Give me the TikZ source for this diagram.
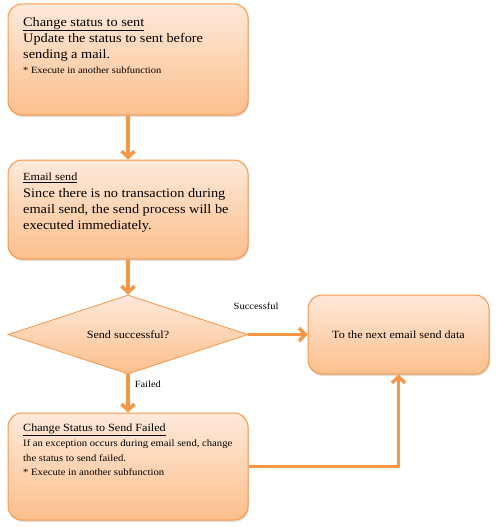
\documentclass[tikz,border=0pt]{standalone}
\usepackage{fontspec}
\setmainfont{Liberation Serif}[FakeStretch=1.1]
\usetikzlibrary{shapes.geometric,arrows.meta,shadows,positioning}

\definecolor{boxline}{HTML}{F79646}
\definecolor{boxtop}{HTML}{FEE9DA}
\definecolor{boxbottom}{HTML}{FCBF8C}

\begin{document}
\begin{tikzpicture}
  [x=1pt, y=-1pt,
    every node/.style={font=\fontsize{10}{12}\selectfont},
    stepbox/.style={draw=boxline, line width=1pt, rounded corners=14pt,
      top color=boxtop, bottom color=boxbottom,
      drop shadow={opacity=0.25, shadow xshift=1pt, shadow yshift=-2pt},
      minimum width=240pt},
    decision/.style={diamond, aspect=3, draw=boxline, line width=0.8pt, inner sep=0pt,
      top color=boxtop, bottom color=boxbottom,
      minimum width=240pt, minimum height=79pt},
    boxtext/.style={anchor=north west, inner sep=0pt, align=left},
    flow/.style={draw=boxline, line width=3.5pt,
      -{Straight Barb[length=6pt, width=13pt]}},
    flowlabel/.style={font=\fontsize{9.5}{11}\selectfont, inner sep=0pt},
  ]
  \useasboundingbox (0,0) rectangle (496,527);

  % boxes
  \node[stepbox, minimum height=111pt] (sent) at (128,59.5) {};
  \node[stepbox, minimum height=99pt] (mailsend) at (128,209.5) {};
  \node[decision] (success) at (128,334.5) {\fontsize{11}{13}\selectfont Send successful?};
  \node[stepbox, minimum width=181pt, minimum height=79pt] (nextdata) at (398.5,334.5)
    {\fontsize{11}{13}\selectfont To the next email send data};
  \node[stepbox, minimum height=107pt] (failed) at (128,466.5) {};

  % texts
  \node[boxtext, font=\fontsize{13}{16}\selectfont] (senttext) at (23,17)
    {\underline{Change status to sent}\\
     Update the status to sent before\\
     sending a mail.\\[-1pt]
     {\fontsize{9.5}{11}\selectfont * Execute in another subfunction}};
  \node[boxtext, font=\fontsize{13}{16.3}\selectfont] (mailsendtext) at (23,173)
    {{\fontsize{11}{13}\selectfont\underline{Email send}}\\
     Since there is no transaction during\\
     email send, the send process will be\\
     executed immediately.};
  \node[boxtext, font=\fontsize{9.7}{15}\selectfont] (failedtext) at (23,424)
    {{\fontsize{11}{13}\selectfont\underline{Change Status to Send Failed}}\\
     If an exception occurs during email send, change\\
     the status to send failed.\\[-1.5pt]
     * Execute in another subfunction};

  % connectors
  \draw[flow] (sent) -- (mailsend);
  \draw[flow] (mailsend) -- (success);
  \draw[flow] (success) -- node[flowlabel, pos=0.25, anchor=west, xshift=5pt] {Failed} (failed);
  \draw[flow] (success) -- node[flowlabel, pos=0.13, yshift=28pt] {Successful} (nextdata);
  \draw[flow] (failed.east) -| (nextdata.south);
\end{tikzpicture}
\end{document}
